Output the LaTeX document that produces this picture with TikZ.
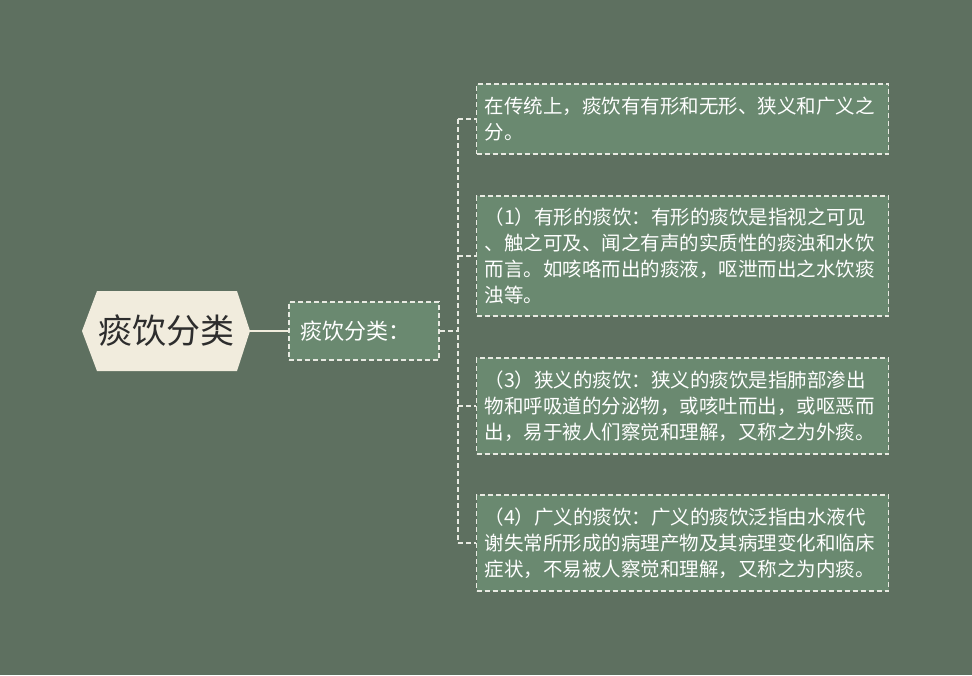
\documentclass[tikz,border=0pt]{standalone}
\usepackage{fontspec}
\newfontfamily\cjk{Noto Sans CJK SC}
\definecolor{bg}{RGB}{94,112,96}
\definecolor{boxfill}{RGB}{106,137,112}
\definecolor{rootfill}{RGB}{241,236,221}
\definecolor{dashcol}{RGB}{232,234,226}
\definecolor{roottext}{RGB}{45,45,45}
\begin{document}
\begin{tikzpicture}[x=1pt,y=-1pt,
  leafbox/.style={draw=dashcol, fill=boxfill, line width=1.1pt, dash pattern=on 5pt off 3pt,
    anchor=west, text=white, font=\cjk\fontsize{19.5}{26}\selectfont, align=left,
    text width=396pt, inner xsep=8pt, inner ysep=0pt, minimum width=412pt},
  midbox/.style={draw=dashcol, fill=boxfill, line width=1.1pt, dash pattern=on 5pt off 3pt,
    text=white, font=\cjk\fontsize{22}{26}\selectfont, align=left, text width=128pt,
    inner xsep=11pt, inner ysep=0pt, minimum height=58pt},
  link/.style={draw=dashcol, line width=1.1pt, dash pattern=on 5pt off 3pt}
]
\useasboundingbox (0,0) rectangle (972,675);
\fill[bg] (0,0) rectangle (972,675);

% root hexagon
\fill[rootfill] (82,331) -- (97,291) -- (237,291) -- (250,331) -- (237,371) -- (97,371) -- cycle;
\node[text=roottext, font=\cjk\fontsize{34}{38}\selectfont, minimum width=168pt, minimum height=80pt, inner sep=0pt] (root) at (166,331) {痰饮分类};

% middle node
\node[midbox] (mid) at (364,331) {痰饮分类：};

\draw[draw=rootfill, line width=1.5pt] (root.east) -- (mid.west);

% leaves
\node[leafbox, minimum height=70pt] (b1) at (476,119) {在传统上，痰饮有有形和无形、狭义和广义之\\分。};
\node[leafbox, minimum height=120pt] (b2) at (476,256) {（1）有形的痰饮：有形的痰饮是指视之可见\\、触之可及、闻之有声的实质性的痰浊和水饮\\而言。如咳咯而出的痰液，呕泄而出之水饮痰\\浊等。};
\node[leafbox, minimum height=96pt] (b3) at (476,406) {（3）狭义的痰饮：狭义的痰饮是指肺部渗出\\物和呼吸道的分泌物，或咳吐而出，或呕恶而\\出，易于被人们察觉和理解，又称之为外痰。};
\node[leafbox, minimum height=96pt] (b4) at (476,543) {（4）广义的痰饮：广义的痰饮泛指由水液代\\谢失常所形成的病理产物及其病理变化和临床\\症状，不易被人察觉和理解，又称之为内痰。};

\coordinate (jn) at (458,331);
\coordinate (top) at (458,119);
\coordinate (bot) at (458,543);
\draw[link] (mid.east) -- (jn);
\draw[link] (top) -- (bot);
\draw[link] (top) -- (b1.west);
\draw[link] (458,256) -- (b2.west);
\draw[link] (458,406) -- (b3.west);
\draw[link] (bot) -- (b4.west);
\end{tikzpicture}
\end{document}
